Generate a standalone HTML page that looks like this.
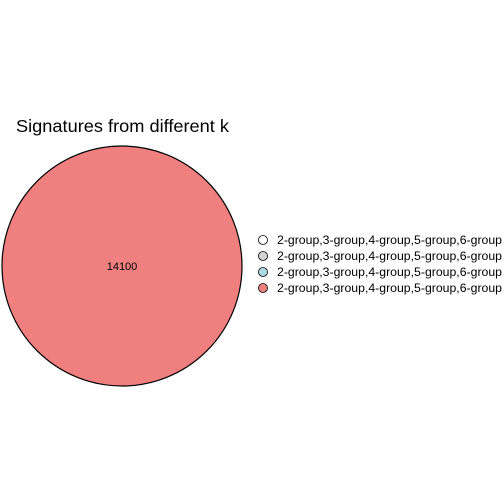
<!DOCTYPE html>
<html><head><meta charset="utf-8"><style>
html,body{margin:0;padding:0;background:#fff}
svg{display:block;font-family:"Liberation Sans",sans-serif}
</style></head><body>
<svg width="504" height="504" viewBox="0 0 504 504">
<text x="16" y="132" font-size="17.5" textLength="213" lengthAdjust="spacingAndGlyphs" fill="#000">Signatures from different k</text>
<g id="sets"></g>
<g id="legend"></g>
</svg>
<script>
const setLabels = ["2-group,3-group,4-group,5-group,6-group","2-group,3-group,4-group,5-group,6-group","2-group,3-group,4-group,5-group,6-group","2-group,3-group,4-group,5-group,6-group"];
const setColors = ["#ffffff","#d3d3d3","#add8e6","#f08080"];
const counts = [14100];
const NS="http://www.w3.org/2000/svg";
const sets=document.getElementById('sets');
const c=document.createElementNS(NS,'circle');
c.setAttribute('cx',122);c.setAttribute('cy',266);c.setAttribute('r',120);
c.setAttribute('fill',setColors[3]);c.setAttribute('stroke','#000');c.setAttribute('stroke-width','1.2');


sets.appendChild(c);
const t=document.createElementNS(NS,'text');
t.setAttribute('x',122);t.setAttribute('y',270);t.setAttribute('text-anchor','middle');t.setAttribute('font-size','11');
t.textContent=counts[0];


sets.appendChild(t);
const lg=document.getElementById('legend');
setLabels.forEach((lab,i)=>{
  const g=document.createElementNS(NS,'g');
  
  
  const y=240+i*16;
  const k=document.createElementNS(NS,'circle');
  k.setAttribute('cx',263);k.setAttribute('cy',y);k.setAttribute('r',4.5);
  k.setAttribute('fill',setColors[i]);k.setAttribute('stroke','#000');k.setAttribute('stroke-width','0.8');
  g.appendChild(k);
  const tx=document.createElementNS(NS,'text');
  tx.setAttribute('x',277);tx.setAttribute('y',y+4);tx.setAttribute('font-size','11.5');
  tx.setAttribute('textLength','225');tx.setAttribute('lengthAdjust','spacingAndGlyphs');
  tx.textContent=lab;g.appendChild(tx);
  lg.appendChild(g);
});
</script>
</body></html>
